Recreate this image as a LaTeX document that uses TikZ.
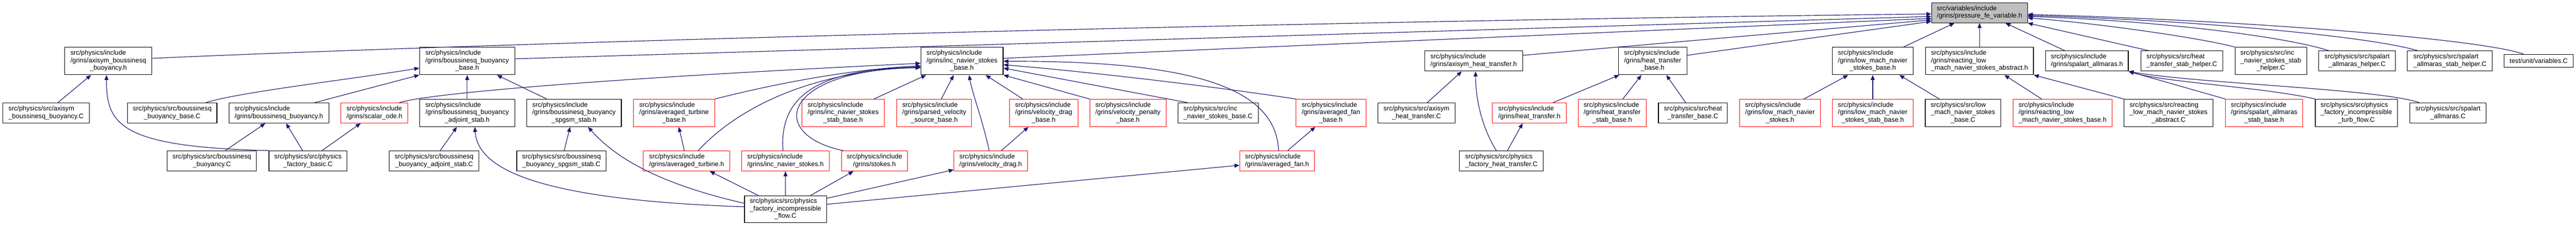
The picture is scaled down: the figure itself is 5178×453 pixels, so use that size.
\documentclass[tikz,border=0pt]{standalone}
\usepackage{fontspec}
\setmainfont{Liberation Sans}
\usetikzlibrary{arrows.meta}
\definecolor{navyc}{HTML}{191970}
\definecolor{grayfill}{HTML}{BFBFBF}
\newcommand\nodefont{\fontsize{13.3}{15}\selectfont}
\newcommand\ltwo[2]{\begin{tabular}{@{}l@{}}#1\\\multicolumn{1}{@{}c@{}}{#2}\end{tabular}}
\newcommand\lthree[3]{\begin{tabular}{@{}l@{}}#1\\#2\\\multicolumn{1}{@{}c@{}}{#3}\end{tabular}}
\tikzset{
  nbox/.style={draw=black, fill=white, line width=1.2pt, inner sep=0pt, font=\nodefont, anchor=center},
  rnbox/.style={nbox, draw=red, line width=1pt},
  hthree/.style={minimum height=55pt},
  htwo/.style={minimum height=40.4pt},
  hone/.style={minimum height=25.7pt},
  conn/.style={draw=navyc, line width=1.2pt, -{Triangle[length=10pt,width=8pt]}}
}
\begin{document}
\begin{tikzpicture}[x=1pt,y=-1pt]
\fill[white] (0,0) rectangle (5178,453);
\useasboundingbox (0,0) rectangle (5178,453);

% Row 1
\node[nbox,fill=grayfill,htwo,minimum height=40pt,minimum width=192.5pt] (P) at (3979,25.7) {\ltwo{src/variables/include}{/grins/pressure\_fe\_variable.h}};

% Row 2
\node[nbox,hthree,minimum width=174.8pt] (ABBh) at (217.8,122.5) {\lthree{src/physics/include}{/grins/axisym\_boussinesq}{\_buoyancy.h}};
\node[nbox,hthree,minimum width=191.4pt] (BBBh) at (939.1,122.5) {\lthree{src/physics/include}{/grins/boussinesq\_buoyancy}{\_base.h}};
\node[nbox,hthree,minimum width=165.3pt] (INSBh) at (1933.7,122.5) {\lthree{src/physics/include}{/grins/inc\_navier\_stokes}{\_base.h}};
\node[nbox,htwo,minimum width=197pt] (AHTh) at (2962.1,122.5) {\ltwo{src/physics/include}{/grins/axisym\_heat\_transfer.h}};
\node[nbox,hthree,minimum width=137.7pt] (HTBh) at (3321.9,122.5) {\lthree{src/physics/include}{/grins/heat\_transfer}{\_base.h}};
\node[nbox,hthree,minimum width=162.6pt] (LMBh) at (3764.3,122.5) {\lthree{src/physics/include}{/grins/low\_mach\_navier}{\_stokes\_base.h}};
\node[nbox,hthree,minimum width=217pt] (RLAh) at (3979,122.5) {\lthree{src/physics/include}{/grins/reacting\_low}{\_mach\_navier\_stokes\_abstract.h}};
\node[nbox,htwo,minimum width=166pt] (SAh) at (4195,122.5) {\ltwo{src/physics/include}{/grins/spalart\_allmaras.h}};
\node[nbox,htwo,minimum width=164.6pt] (HTSHC) at (4385.7,122.5) {\ltwo{src/physics/src/heat}{\_transfer\_stab\_helper.C}};
\node[nbox,hthree,minimum width=144pt] (INSSHC) at (4564.5,122.5) {\lthree{src/physics/src/inc}{\_navier\_stokes\_stab}{\_helper.C}};
\node[nbox,htwo,minimum width=153.6pt] (SAHC) at (4737.8,122.5) {\ltwo{src/physics/src/spalart}{\_allmaras\_helper.C}};
\node[nbox,htwo,minimum width=170.8pt] (SASHC) at (4924.6,122.5) {\ltwo{src/physics/src/spalart}{\_allmaras\_stab\_helper.C}};
\node[nbox,hone,minimum width=138.3pt] (VARC) at (5103,122.2) {test/unit/variables.C};

% Row 3
\node[nbox,htwo,minimum width=174.3pt] (ABBC) at (92.6,226.7) {\ltwo{src/physics/src/axisym}{\_boussinesq\_buoyancy.C}};
\node[nbox,htwo,minimum width=179.7pt] (BBBC) at (346.2,226.7) {\ltwo{src/physics/src/boussinesq}{\_buoyancy\_base.C}};
\node[nbox,htwo,minimum width=201pt] (BBh) at (560.5,226.7) {\ltwo{src/physics/include}{/grins/boussinesq\_buoyancy.h}};
\node[rnbox,htwo,minimum width=134.8pt] (SODEh) at (752.7,226.7) {\ltwo{src/physics/include}{/grins/scalar\_ode.h}};
\node[nbox,hthree,minimum width=191.4pt] (BBASh) at (939.1,226.7) {\lthree{src/physics/include}{/grins/boussinesq\_buoyancy}{\_adjoint\_stab.h}};
\node[nbox,hthree,minimum width=190.4pt] (BBSSh) at (1153.8,226.7) {\lthree{src/physics/include}{/grins/boussinesq\_buoyancy}{\_spgsm\_stab.h}};
\node[rnbox,hthree,minimum width=163.1pt] (ATBh) at (1355,226.7) {\lthree{src/physics/include}{/grins/averaged\_turbine}{\_base.h}};
\node[rnbox,hthree,minimum width=165.8pt] (INSSBh) at (1694.8,226.7) {\lthree{src/physics/include}{/grins/inc\_navier\_stokes}{\_stab\_base.h}};
\node[rnbox,hthree,minimum width=150.3pt] (PVSBh) at (1877.9,226.7) {\lthree{src/physics/include}{/grins/parsed\_velocity}{\_source\_base.h}};
\node[rnbox,hthree,minimum width=137.7pt] (VDBh) at (2097.9,226.7) {\lthree{src/physics/include}{/grins/velocity\_drag}{\_base.h}};
\node[rnbox,hthree,minimum width=153.1pt] (VPBh) at (2267.2,226.7) {\lthree{src/physics/include}{/grins/velocity\_penalty}{\_base.h}};
\node[nbox,htwo,minimum width=161pt] (INSBC) at (2448.5,226.7) {\ltwo{src/physics/src/inc}{\_navier\_stokes\_base.C}};
\node[rnbox,hthree,minimum width=140.4pt] (AFBh) at (2675.2,226.7) {\lthree{src/physics/include}{/grins/averaged\_fan}{\_base.h}};
\node[nbox,htwo,minimum width=154.8pt] (AHTC) at (2847.2,226.7) {\ltwo{src/physics/src/axisym}{\_heat\_transfer.C}};
\node[rnbox,htwo,minimum width=148.2pt] (HTh) at (3074.1,226.7) {\ltwo{src/physics/include}{/grins/heat\_transfer.h}};
\node[rnbox,hthree,minimum width=137pt] (HTSBh) at (3240.5,226.7) {\lthree{src/physics/include}{/grins/heat\_transfer}{\_stab\_base.h}};
\node[nbox,htwo,minimum width=138.6pt] (HTBC) at (3402.9,226.7) {\ltwo{src/physics/src/heat}{\_transfer\_base.C}};
\node[rnbox,hthree,minimum width=162.6pt] (LMh) at (3577.9,226.7) {\lthree{src/physics/include}{/grins/low\_mach\_navier}{\_stokes.h}};
\node[rnbox,hthree,minimum width=162.6pt] (LMSBh) at (3764.3,226.7) {\lthree{src/physics/include}{/grins/low\_mach\_navier}{\_stokes\_stab\_base.h}};
\node[nbox,hthree,minimum width=151.5pt] (LMBC) at (3945.8,226.7) {\lthree{src/physics/src/low}{\_mach\_navier\_stokes}{\_base.C}};
\node[rnbox,hthree,minimum width=198.7pt] (RLBh) at (4145.9,226.7) {\lthree{src/physics/include}{/grins/reacting\_low}{\_mach\_navier\_stokes\_base.h}};
\node[nbox,hthree,minimum width=178.8pt] (RLAC) at (4359,226.7) {\lthree{src/physics/src/reacting}{\_low\_mach\_navier\_stokes}{\_abstract.C}};
\node[rnbox,hthree,minimum width=155.1pt] (SASBh) at (4551.2,226.7) {\lthree{src/physics/include}{/grins/spalart\_allmaras}{\_stab\_base.h}};
\node[nbox,hthree,minimum width=165.1pt] (PFITFC) at (4736.5,226.7) {\lthree{src/physics/src/physics}{\_factory\_incompressible}{\_turb\_flow.C}};
\node[nbox,htwo,minimum width=152.8pt] (SAC) at (4920.6,226.7) {\ltwo{src/physics/src/spalart}{\_allmaras.C}};

% Row 4
\node[nbox,htwo,minimum width=179.2pt] (BBC) at (425.9,323) {\ltwo{src/physics/src/boussinesq}{\_buoyancy.C}};
\node[nbox,htwo,minimum width=157pt] (PFBC) at (619,323) {\ltwo{src/physics/src/physics}{\_factory\_basic.C}};
\node[nbox,htwo,minimum width=180.3pt] (BBASC) at (872.6,323) {\ltwo{src/physics/src/boussinesq}{\_buoyancy\_adjoint\_stab.C}};
\node[nbox,htwo,minimum width=179.7pt] (BBSSC) at (1128.6,323) {\ltwo{src/physics/src/boussinesq}{\_buoyancy\_spgsm\_stab.C}};
\node[rnbox,htwo,minimum width=173.6pt] (ATh) at (1380.2,323) {\ltwo{src/physics/include}{/grins/averaged\_turbine.h}};
\node[rnbox,htwo,minimum width=175.9pt] (INSh) at (1578.9,323) {\ltwo{src/physics/include}{/grins/inc\_navier\_stokes.h}};
\node[rnbox,htwo,minimum width=133.1pt] (STh) at (1757.8,323) {\ltwo{src/physics/include}{/grins/stokes.h}};
\node[rnbox,htwo,minimum width=147.5pt] (VDh) at (1991.3,323) {\ltwo{src/physics/include}{/grins/velocity\_drag.h}};
\node[rnbox,htwo,minimum width=150.3pt] (AFh) at (2567,323) {\ltwo{src/physics/include}{/grins/averaged\_fan.h}};
\node[nbox,htwo,minimum width=168.7pt] (PFHTC) at (3017.9,323) {\ltwo{src/physics/src/physics}{\_factory\_heat\_transfer.C}};

% Row 5
\node[nbox,minimum height=54pt,minimum width=164.8pt] (PFIFC) at (1578.8,419.7) {\lthree{src/physics/src/physics}{\_factory\_incompressible}{\_flow.C}};

% Edges into P
\draw[conn] ([yshift=5.5pt]ABBh.east) .. controls (1200,78) and (2800,40) .. ([yshift=-2.3pt]P.west);
\draw[conn] ([yshift=4.5pt]BBBh.east) -- ([yshift=-7.3pt]P.west);
\draw[conn] ([yshift=5.5pt]INSBh.east) -- ([yshift=-11.3pt]P.west);
\draw[conn] ([yshift=11.5pt]AHTh.east) -- ([yshift=-14.3pt]P.west);
\draw[conn] ([yshift=11.5pt]HTBh.east) -- ([yshift=-17.3pt]P.west);
\draw[conn] ([xshift=61.7pt]LMBh.north) -- ([xshift=-50.4pt]P.south);
\draw[conn] (RLAh.north) -- (P.south);
\draw[conn] ([xshift=-44.4pt]SAh.north) -- ([xshift=52pt]P.south);
\draw[conn] ([xshift=-66.1pt]HTSHC.north) -- (P.south east);
\draw[conn] (INSSHC.north west) .. controls (4420,75) and (4200,45) .. ([yshift=-10.3pt]P.east);
\draw[conn] ([xshift=-56.8pt]SAHC.north) .. controls (4600,75) and (4350,42) .. ([yshift=-7.3pt]P.east);
\draw[conn] ([xshift=-64.6pt]SASHC.north) .. controls (4760,72) and (4400,40) .. ([yshift=-5.3pt]P.east);
\draw[conn] ([xshift=-30.3pt]VARC.north) .. controls (4990,78) and (4500,40) .. ([yshift=-3.3pt]P.east);

% Left cluster
\draw[conn] ([xshift=23.9pt]ABBC.north) -- ([xshift=-34.8pt]ABBh.south);
\draw[conn] (PFBC.north west) .. controls (240,295) and (214,250) .. ([xshift=-3.8pt]ABBh.south);
\draw[conn] ([xshift=67.8pt]BBBC.north) .. controls (480,185) and (700,160) .. ([yshift=-14.2pt]BBBh.west);
\draw[conn] ([xshift=72.5pt]BBh.north) -- (BBBh.south west);
\draw[conn] (BBASh.north) -- (BBBh.south);
\draw[conn] ([xshift=-54.9pt]BBSSh.north) -- ([xshift=59.8pt]BBBh.south);
\draw[conn] ([xshift=26.9pt]BBC.north) -- ([xshift=-27.2pt]BBh.south);
\draw[conn] ([xshift=-10.7pt]PFBC.north) -- ([xshift=14.5pt]BBh.south);
\draw[conn] ([xshift=28.2pt]PFBC.north) -- ([xshift=-27.7pt]SODEh.south);
\draw[conn] ([xshift=50.1pt]SODEh.north) .. controls (860,188) and (1200,158) .. ([yshift=-4.5pt]INSBh.west);
\draw[conn] ([xshift=12.4pt]BBASC.north) -- ([xshift=-20.8pt]BBASh.south);
\draw[conn] ([yshift=4.7pt]PFIFC.west) .. controls (1050,400) and (960,330) .. ([xshift=15.3pt]BBASh.south);
\draw[conn] ([xshift=5.3pt]BBSSC.north) -- ([xshift=-7.8pt]BBSSh.south);
\draw[conn] ([yshift=11.7pt]PFIFC.west) .. controls (1330,370) and (1240,320) .. ([xshift=28.2pt]BBSSh.south);

% Around inc_navier_stokes_base.h
\draw[conn] ([xshift=-4.6pt]ATh.north) -- ([xshift=9.4pt]ATBh.south);
\draw[conn] (ATBh.north east) .. controls (1550,170) and (1700,140) .. ([yshift=-9.5pt]INSBh.west);
\draw[conn] ([xshift=23.1pt]ATh.north) .. controls (1480,220) and (1620,145) .. ([yshift=-11.5pt]INSBh.west);
\draw[conn] ([xshift=-4.9pt]INSh.north) .. controls (1565,190) and (1650,138) .. ([yshift=-12.5pt]INSBh.west);
\draw[conn] ([xshift=-62.8pt]STh.north) .. controls (1540,270) and (1570,140) .. ([yshift=-13.5pt]INSBh.west);
\draw[conn] ([xshift=61.9pt]INSSBh.north) -- ([xshift=-72pt]INSBh.south);
\draw[conn] ([xshift=14.1pt]PVSBh.north) -- ([xshift=-16.7pt]INSBh.south);
\draw[conn] ([xshift=-3pt]VDh.north) .. controls (1975,240) and (1955,190) .. ([xshift=14.3pt]INSBh.south);
\draw[conn] ([xshift=-41.9pt]VDBh.north) -- ([xshift=47.3pt]INSBh.south);
\draw[conn] (VPBh.north west) -- (INSBh.south east);
\draw[conn] ([xshift=-61.8pt]INSBC.north) -- ([yshift=-14.2pt]INSBh.east);
\draw[conn] (AFBh.north west) .. controls (2450,175) and (2200,145) .. ([yshift=-7.5pt]INSBh.east);
\draw[conn] ([xshift=3pt]AFh.north) .. controls (2565,170) and (2380,122) .. ([yshift=-0.5pt]INSBh.east);
\draw[conn] ([xshift=21.3pt]AFh.north) -- ([xshift=-31.3pt]AFBh.south);
\draw[conn] ([xshift=21.5pt]VDh.north) -- ([xshift=-30.7pt]VDBh.south);

% From physics_factory_incompressible_flow.C
\draw[conn] ([yshift=21.7pt]PFIFC.east) -- ([yshift=-17.7pt]VDh.west);
\draw[conn] ([yshift=9.7pt]PFIFC.east) -- ([yshift=-8.7pt]AFh.west);
\draw[conn] ([xshift=-54.9pt]PFIFC.north) -- ([xshift=46.5pt]ATh.south);
\draw[conn] (PFIFC.north) -- (INSh.south);
\draw[conn] ([xshift=50.6pt]PFIFC.north) -- ([xshift=-42.2pt]STh.south);

% Heat transfer
\draw[conn] ([xshift=21.7pt]AHTC.north) -- ([xshift=-23.8pt]AHTh.south);
\draw[conn] ([xshift=-10.1pt]PFHTC.north) .. controls (2975,250) and (2966,190) .. ([xshift=3.9pt]AHTh.south);
\draw[conn] ([xshift=12.1pt]PFHTC.north) -- ([xshift=-13.5pt]HTh.south);
\draw[conn] ([xshift=47.6pt]HTh.north) -- ([xshift=-66.9pt]HTBh.south);
\draw[conn] ([xshift=21.5pt]HTSBh.north) -- ([xshift=-22.5pt]HTBh.south);
\draw[conn] ([xshift=-14.6pt]HTBC.north) -- ([xshift=27.5pt]HTBh.south);

% Low Mach
\draw[conn] ([xshift=48.1pt]LMh.north) -- ([xshift=-49.3pt]LMBh.south);
\draw[conn] (LMSBh.north) -- (LMBh.south);
\draw[conn] ([xshift=-47.5pt]LMBC.north) -- ([xshift=53.5pt]LMBh.south);
\draw[conn] ([xshift=-42pt]RLBh.north) -- ([xshift=49.9pt]RLAh.south);
\draw[conn] (RLAC.north west) -- (RLAh.south east);

% Spalart Allmaras
\draw[conn] (SASBh.north west) -- (SAh.south east);
\draw[conn] (PFITFC.north west) .. controls (4550,175) and (4350,165) .. (SAh.south east);
\draw[conn] ([xshift=-57.9pt]SAC.north) .. controls (4780,178) and (4420,168) .. (SAh.south east);
\end{tikzpicture}
\end{document}
